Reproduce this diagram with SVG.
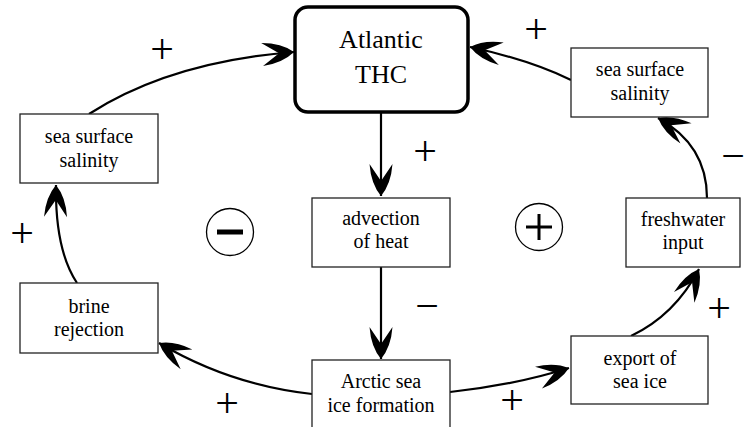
<svg xmlns="http://www.w3.org/2000/svg" width="754" height="427" viewBox="0 0 754 427">
<defs>
<marker id="ah" markerUnits="userSpaceOnUse" markerWidth="36" markerHeight="26" viewBox="-34 -13 36 26" refX="0" refY="0" orient="auto">
<path d="M0,0 Q-12,-10 -32,-11.5 L-15,0 L-32,11.5 Q-12,10 0,0 Z" fill="#000"/>
</marker>
</defs>
<style>
.box{fill:#fff;stroke:#222;stroke-width:1.3}
.main{fill:#fff;stroke:#000;stroke-width:3.5}
text{font-family:'Liberation Serif','Times New Roman','DejaVu Serif',serif;text-anchor:middle;fill:#000}
.t{font-size:20px}
.tb{font-size:26px}
.s{font-size:42px}
.c{fill:#fff;stroke:#000;stroke-width:1.3}
.e{fill:none;stroke:#000;stroke-width:2.2;marker-end:url(#ah)}
</style>
<g id="connectors">
<path class="e" d="M89,114 Q170,62 294,52"/>
<path class="e" d="M571,80 Q530,60 470,47"/>
<path class="e" d="M381,113 L381,196"/>
<path class="e" d="M381,267 L381,359"/>
<path class="e" d="M312,394 Q230,385 159,343"/>
<path class="e" d="M450,392 Q515,385 569,368"/>
<path class="e" d="M631,336 Q675,315 699,269"/>
<path class="e" d="M707,198 Q707,145 658,118"/>
<path class="e" d="M77,283 Q55,250 56,185"/>
</g>
<g id="thc"><rect class="main" x="295" y="7" width="173" height="105" rx="13"/><text class="tb" x="381" y="48">Atlantic</text><text class="tb" x="381" y="83">THC</text></g>
<g id="sss-left"><rect class="box" x="20" y="114" width="138" height="69"/><text class="t" x="89" y="143">sea surface</text><text class="t" x="89" y="167">salinity</text></g>
<g id="sss-right"><rect class="box" x="571" y="48" width="137" height="69"/><text class="t" x="640" y="76">sea surface</text><text class="t" x="640" y="100">salinity</text></g>
<g id="advection"><rect class="box" x="312" y="198" width="138" height="69"/><text class="t" x="381" y="225">advection</text><text class="t" x="381" y="248">of heat</text></g>
<g id="freshwater"><rect class="box" x="626" y="198" width="114" height="69"/><text class="t" x="683" y="226">freshwater</text><text class="t" x="683" y="249">input</text></g>
<g id="brine"><rect class="box" x="20" y="283" width="138" height="70"/><text class="t" x="89" y="313">brine</text><text class="t" x="89" y="336">rejection</text></g>
<g id="arctic"><rect class="box" x="312" y="360" width="138" height="70"/><text class="t" x="381" y="388">Arctic sea</text><text class="t" x="381" y="412">ice formation</text></g>
<g id="export"><rect class="box" x="571" y="336" width="137" height="68"/><text class="t" x="640" y="365">export of</text><text class="t" x="640" y="388">sea ice</text></g>
<g id="loop-neg"><circle class="c" cx="230" cy="232" r="23.5"/><rect x="217" y="229.5" width="26" height="5" fill="#000"/></g>
<g id="loop-pos"><circle class="c" cx="539" cy="227" r="23.5"/><rect x="526" y="225.5" width="26" height="3" fill="#000"/><rect x="537.5" y="214" width="3" height="26" fill="#000"/></g>
<g id="signs">
<text class="s" x="162" y="63">+</text>
<text class="s" x="536" y="43">+</text>
<text class="s" x="425" y="165">+</text>
<text class="s" x="733" y="170">−</text>
<text class="s" x="22" y="247">+</text>
<text class="s" x="427" y="320">−</text>
<text class="s" x="719" y="322">+</text>
<text class="s" x="227" y="417">+</text>
<text class="s" x="512" y="414">+</text>
</g>
</svg>
